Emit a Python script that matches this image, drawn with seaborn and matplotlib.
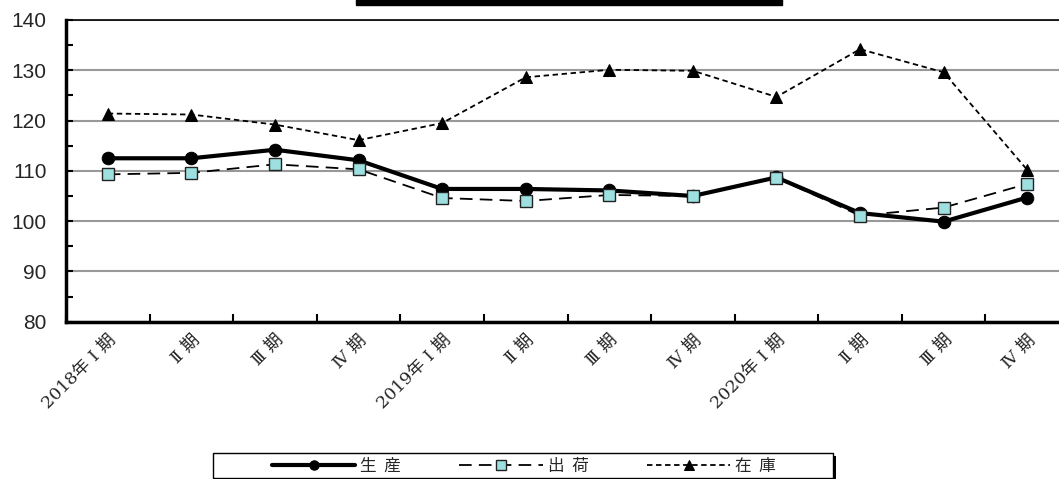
import matplotlib
matplotlib.use("Agg")
import matplotlib.pyplot as plt
import seaborn as sns
import pandas as pd
from matplotlib.patches import Rectangle
from matplotlib.ticker import MultipleLocator, FixedLocator

categories = ["2018年 Ⅰ 期", "Ⅱ 期", "Ⅲ 期", "Ⅳ 期",
              "2019年 Ⅰ 期", "Ⅱ 期 ", "Ⅲ 期 ", "Ⅳ 期 ",
              "2020年 Ⅰ 期", "Ⅱ 期  ", "Ⅲ 期  ", "Ⅳ 期  "]
production = [112.5, 112.5, 114.2, 112.1, 106.4, 106.4, 106.1, 105.0, 108.7, 101.6, 99.9, 104.7]
shipment = [109.3, 109.6, 111.3, 110.3, 104.6, 104.0, 105.2, 105.0, 108.6, 101.1, 102.7, 107.4]
inventory = [121.4, 121.2, 119.2, 116.1, 119.5, 128.6, 130.1, 129.9, 124.7, 134.2, 129.6, 110.2]
series_names = ["生  産", "出  荷", "在  庫"]
y_ticks = [80, 90, 100, 110, 120, 130, 140]

sns.set_theme(style="white")
plt.rcParams["font.family"] = ["Liberation Sans", "Noto Sans CJK JP", "DejaVu Sans"]

W, H = 1059, 479
fig = plt.figure(figsize=(W/100, H/100), dpi=100)
ax = fig.add_axes([66/W, 1-321.7/H, 1003/W, 301.7/H])

df = pd.DataFrame({"cat": categories, "p": production, "s": shipment, "i": inventory})

sns.lineplot(data=df, x="cat", y="i", ax=ax, color="black", lw=1.3,
             linestyle=(0, (3, 2)), marker="^", markersize=9,
             markeredgecolor="black", markerfacecolor="black",
             label=series_names[2], sort=False, zorder=3)
sns.lineplot(data=df, x="cat", y="s", ax=ax, color="black", lw=1.3,
             linestyle=(0, (7, 4)), marker="s", markersize=9,
             markeredgecolor="#222222", markeredgewidth=1.0,
             markerfacecolor="#9EE0E0",
             label=series_names[1], sort=False, zorder=4)
sns.lineplot(data=df, x="cat", y="p", ax=ax, color="black", lw=3,
             linestyle="-", marker="o", markersize=9,
             markeredgecolor="black", markerfacecolor="black",
             label=series_names[0], sort=False, zorder=3)

ax.set_xlim(-0.5, len(categories) - 0.5)
ax.set_ylim(80, 140)
ax.set_yticks(y_ticks)
ax.yaxis.set_minor_locator(MultipleLocator(5))
ax.yaxis.grid(True, color="#999999", lw=1.5)
ax.set_axisbelow(True)
ax.set_xlabel("")
ax.set_ylabel("")

ax.set_xticks(range(len(categories)))
ax.set_xticklabels([c.strip() for c in categories], rotation=45, ha="right",
                   rotation_mode="anchor", fontsize=12.5,
                   family=["DejaVu Serif", "Noto Sans CJK JP", "DejaVu Sans"])
ax.xaxis.set_minor_locator(FixedLocator([k - 0.5 for k in range(len(categories) + 1)]))
ax.tick_params(axis="x", which="major", length=0, pad=7)
ax.tick_params(axis="x", which="minor", direction="in", length=6, width=1.5, color="black", bottom=True)
ax.tick_params(axis="y", which="both", direction="in", length=5, width=1.5, color="black", left=True)
ax.tick_params(axis="y", which="major", labelsize=15, pad=14)

for side in ["left", "bottom"]:
    ax.spines[side].set_linewidth(2.5)
    ax.spines[side].set_color("black")
ax.spines["top"].set_linewidth(1.2)
ax.spines["top"].set_color("black")
ax.spines["right"].set_visible(False)

ax.get_legend().remove()
handles, labels = ax.get_legend_handles_labels()
order = [2, 1, 0]

# legend box with black shadow
fig.patches.append(Rectangle((216/W, 1-481/H), 620/W, 25/H, transform=fig.transFigure,
                             facecolor="black", edgecolor="none", zorder=1))
fig.patches.append(Rectangle((213/W, 1-478/H), 620/W, 25/H, transform=fig.transFigure,
                             facecolor="white", edgecolor="black", lw=1.0, zorder=2))

leg = fig.legend([handles[k] for k in order], [labels[k] for k in order],
                 loc="center", bbox_to_anchor=(524/W, 1-466/H), ncol=3,
                 frameon=False, fontsize=12, handlelength=5, columnspacing=3.5,
                 borderpad=0.2, handletextpad=0.3, markerscale=0.75)
leg.set_zorder(3)
for t in leg.get_texts():
    t.set_family(["Noto Sans CJK JP", "DejaVu Sans"])

fig.patches.append(Rectangle((356/W, 1-5/H), 426/W, 6/H,
                             transform=fig.transFigure, color="black", zorder=5))

fig.savefig("out.png", dpi=100)
